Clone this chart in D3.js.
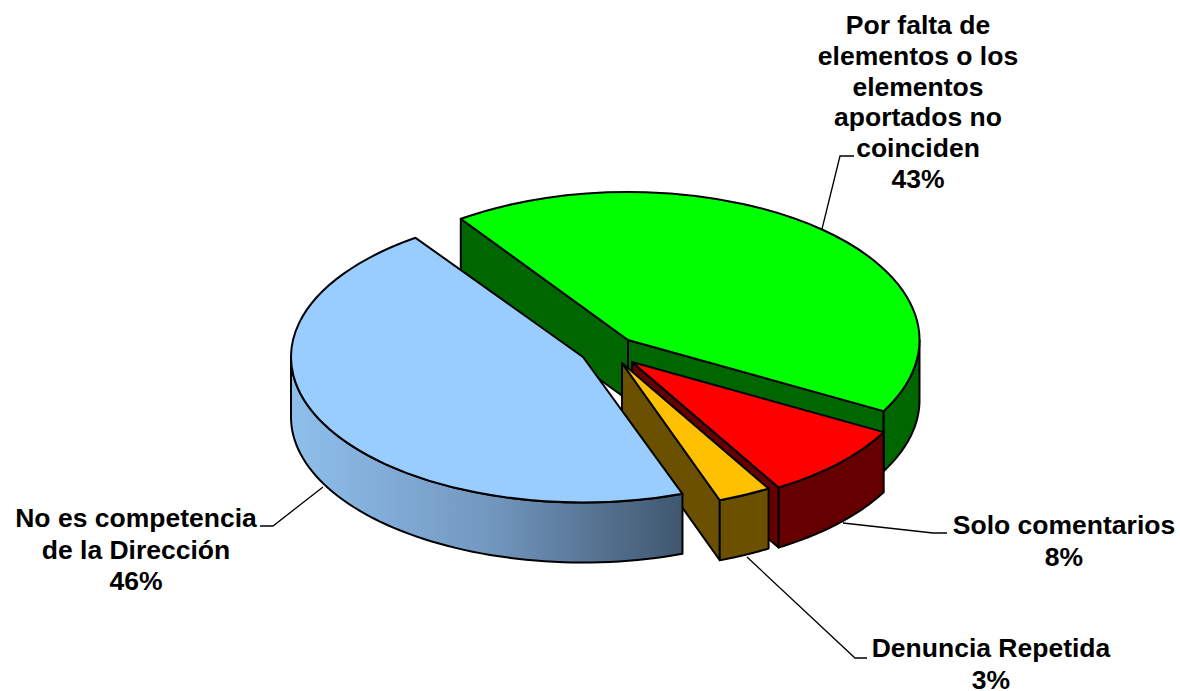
<!DOCTYPE html>
<html><head><meta charset="utf-8">
<script src="https://cdn.jsdelivr.net/npm/d3@7"></script>
<style>html,body{margin:0;padding:0;background:#fff}svg{display:block}text{font-family:"Liberation Sans",Arial,sans-serif;font-weight:bold;font-size:26.5px;fill:#000;text-anchor:middle}</style>
</head><body><svg id="c" width="1180" height="691"></svg>
<script>
const categories = ["Por falta de elementos o los elementos aportados no coinciden","Solo comentarios","Denuncia Repetida","No es competencia de la Dirección"];
const values = [42.7, 8.49, 3.0, 45.81];
const labelLines = [["Por falta de","elementos o los","elementos","aportados no","coinciden"],["Solo comentarios"],["Denuncia Repetida"],["No es competencia","de la Dirección"]];

// layout
const W=1180,H=691, depth=60;
const sliceCenters=[[628,340],[632,362],[622,363],[583,357]];
const sliceRadii=[[291.5,148],[287,146],[287,146],[292,145.5]];
const topColors=["#00ff00","#ff0000","#ffc000","#99ccff"];
const wallColors=["#006600","#660000","#6b5000","url(#blueWall)"];
const labelPos=[[918,34],[1064,534],[991,657],[136,527]];
const lineHeights=[30.8,32,32,31.5];
const leaders=[[[822,229],[840,156],[854,156]],[[843,523],[933,533],[947,533]],[[747,557],[855,658],[867,658]],[[323,487],[273,526],[260,526]]];

const svg=d3.select("#c");
const defs=svg.append("defs");
const g=defs.append("linearGradient").attr("id","blueWall").attr("gradientUnits","userSpaceOnUse").attr("x1",291).attr("x2",684).attr("y1",0).attr("y2",0);
g.append("stop").attr("offset",0).attr("stop-color","#8fbfec");
g.append("stop").attr("offset",.5).attr("stop-color","#7398c0");
g.append("stop").attr("offset",1).attr("stop-color","#3f566e");

const start=-35*Math.PI/180;
const pie=d3.pie().sort(null).startAngle(start).endAngle(start+2*Math.PI);
const arcs=pie(values);
const line=d3.line();
const pt=(c,r,a,dz=0)=>[c[0]+r[0]*Math.sin(a),c[1]-r[1]*Math.cos(a)+dz];
const stroke={stroke:"#000","stroke-width":2,"stroke-linejoin":"round"};
function st(s){for(const k in stroke)s.attr(k,stroke[k]);return s;}

// leader lines sit behind the pie
svg.append("g").selectAll("path").data(leaders).join("path").attr("d",d=>line(d)).attr("fill","none").attr("stroke","#000").attr("stroke-width",1.3);

const faces={0:["s","e"],1:["e"],2:["e"],3:[]};
arcs.forEach((d,i)=>{
  const c=sliceCenters[i], r=sliceRadii[i], G=svg.append("g");
  const arc=d3.arc().innerRadius(0).outerRadius(r[0]);
  // straight cut faces
  faces[i].forEach(f=>{
    const a=f==="s"?d.startAngle:d.endAngle;
    const p=pt(c,r,a);
    st(G.append("path").attr("d",line([c,p,[p[0],p[1]+depth],[c[0],c[1]+depth]])+"Z").attr("fill",wallColors[i]));
  });
  // curved outer wall: only the front-facing part (90°..270°)
  const a0=Math.max(d.startAngle,Math.PI/2), a1=Math.min(d.endAngle,1.5*Math.PI);
  if(a1>a0){
    const as=d3.range(0,61).map(k=>a0+(a1-a0)*k/60);
    const pts=as.map(a=>pt(c,r,a)).concat(as.slice().reverse().map(a=>pt(c,r,a,depth)));
    st(G.append("path").attr("d",line(pts)+"Z").attr("fill",wallColors[i]));
  }
  // top face
  st(G.append("path").attr("d",arc(d)).attr("transform",`translate(${c[0]},${c[1]}) scale(1,${r[1]/r[0]})`).attr("vector-effect","non-scaling-stroke").attr("fill",topColors[i]));
});

// labels
const fmt=v=>Math.round(v)+"%";
categories.forEach((cat,i)=>{
  const t=svg.append("text").attr("x",labelPos[i][0]).attr("y",labelPos[i][1]);
  labelLines[i].concat(fmt(values[i])).forEach((s,k)=>{
    t.append("tspan").attr("x",labelPos[i][0]).attr("y",labelPos[i][1]+k*lineHeights[i]).text(s);
  });
});
</script></body></html>
